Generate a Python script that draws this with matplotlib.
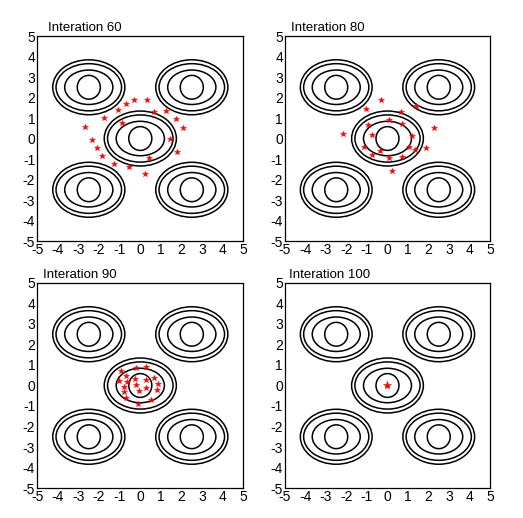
import numpy as np
import matplotlib
matplotlib.use('Agg')
import matplotlib.pyplot as plt
from matplotlib.patches import Ellipse

plt.rcParams['font.family'] = ['Liberation Sans', 'DejaVu Sans']
plt.rcParams['axes.unicode_minus'] = False

# centres of the five peaks
peak_x = [0.0, -2.5, 2.5, -2.5, 2.5]
peak_y = [0.0, 2.5, 2.5, -2.5, -2.5]
# contour rings around each peak (semi-axes)
ring_a = [0.56, 1.17, 1.59, 1.75]
ring_b = [0.58, 0.84, 1.15, 1.34]

titles = ['Interation 60', 'Interation 80', 'Interation 90', 'Interation 100']

# swarm positions
it60_x = [-0.29, 0.31, -0.71, -1.07, 0.66, 1.25, -1.76, 1.72, -0.87, -2.67,
          2.09, 1.44, -2.33, -2.10, 1.78, -1.87, 0.41, -1.26, -0.56, 0.24]
it60_y = [1.88, 1.86, 1.68, 1.37, 1.31, 1.33, 1.02, 0.94, 0.77, 0.58,
          0.51, -0.04, -0.07, -0.45, -0.64, -0.84, -0.94, -1.24, -1.37, -1.73]

it80_x = [-0.33, -1.03, 0.66, 1.39, 0.09, 0.71, -0.97, 2.25, -2.16, -0.74,
          1.20, -1.13, 1.05, 1.89, -0.35, 1.34, -0.76, 0.72, 0.09, 0.20]
it80_y = [1.88, 1.42, 1.31, 1.57, 0.89, 0.72, 0.64, 0.50, 0.22, 0.16,
          0.12, -0.43, -0.41, -0.45, -0.61, -0.58, -0.80, -0.89, -0.97, -1.59]

it90_x = [-0.92, -0.21, 0.29, -0.69, -0.26, 0.28, 0.68, -1.02, -0.63, 0.87,
          -0.22, -0.79, 0.26, 0.80, -0.78, -0.05, -0.69, 0.52, -0.13]
it90_y = [0.72, 0.83, 0.90, 0.47, 0.34, 0.28, 0.36, 0.20, 0.15, 0.07,
          0.03, -0.08, -0.10, -0.23, -0.32, -0.27, -0.59, -0.71, -0.88]

it100_x = [0.0]
it100_y = [0.0]

swarm = [(it60_x, it60_y), (it80_x, it80_y), (it90_x, it90_y), (it100_x, it100_y)]

fig = plt.figure(figsize=(5.23, 5.18), dpi=100)
positions = [
    [0.0713, 0.5347, 0.3939, 0.3958],
    [0.5449, 0.5347, 0.3920, 0.3958],
    [0.0713, 0.0579, 0.3939, 0.3958],
    [0.5449, 0.0579, 0.3920, 0.3958],
]
title_x = [0.05, 0.03, 0.03, 0.02]
star_size = [4, 4, 4, 6]

for i, pos in enumerate(positions):
    ax = fig.add_axes(pos)
    for cx, cy in zip(peak_x, peak_y):
        for a, b in zip(ring_a, ring_b):
            ax.add_patch(Ellipse((cx, cy), 2 * a, 2 * b, fill=False,
                                 edgecolor='black', linewidth=1.1))
    xs, ys = swarm[i]
    ax.plot(xs, ys, '*', color='red', markersize=star_size[i],
            markeredgewidth=0.4, linestyle='none')
    ax.set_xlim(-5, 5)
    ax.set_ylim(-5, 5)
    ax.set_xticks(range(-5, 6))
    ax.set_yticks(range(-5, 6))
    ax.tick_params(length=0, labelsize=10, pad=1.5)
    for s in ax.spines.values():
        s.set_linewidth(0.9)
    ax.text(title_x[i], 1.01, titles[i], transform=ax.transAxes,
            ha='left', va='bottom', fontsize=9.5)

plt.savefig('out.png', dpi=100)
